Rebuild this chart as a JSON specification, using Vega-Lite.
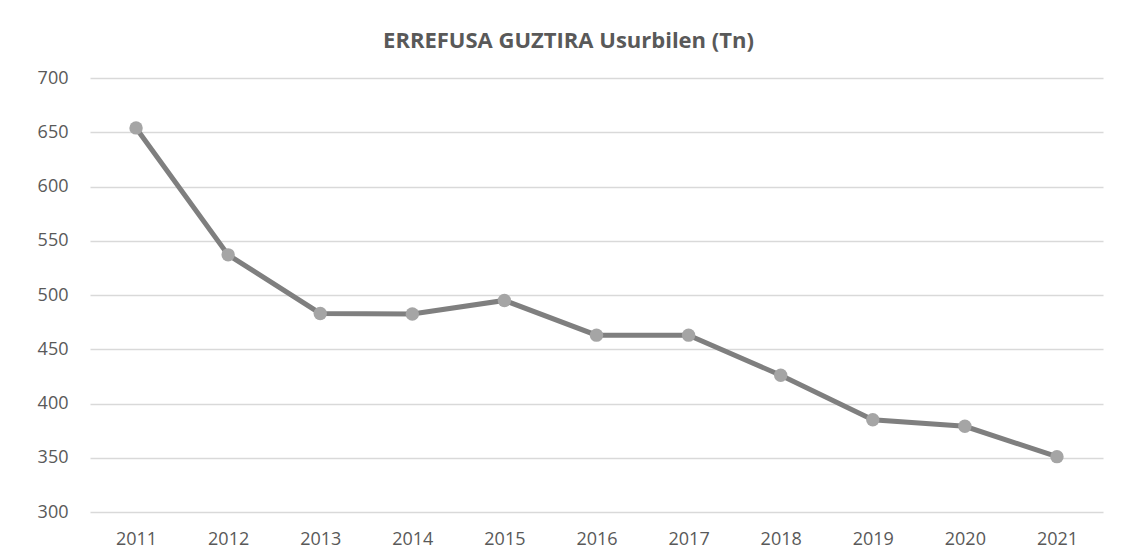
{
  "$schema": "https://vega.github.io/schema/vega-lite/v6.json",
  "autosize": {"type": "none"},
  "width": 1013,
  "height": 434,
  "padding": {"left": 90, "top": 78, "right": 20, "bottom": 47},
  "background": "white",
  "title": {
    "text": "ERREFUSA GUZTIRA Usurbilen (Tn)",
    "font": "Open Sans",
    "fontSize": 22,
    "fontWeight": "bold",
    "color": "#595959",
    "anchor": "middle",
    "dx": -28,
    "offset": 16
  },
  "data": {
    "values": [
      {"year": "2011", "value": 654},
      {"year": "2012", "value": 537},
      {"year": "2013", "value": 483},
      {"year": "2014", "value": 482.5},
      {"year": "2015", "value": 495},
      {"year": "2016", "value": 463},
      {"year": "2017", "value": 463},
      {"year": "2018", "value": 426},
      {"year": "2019", "value": 385},
      {"year": "2020", "value": 379},
      {"year": "2021", "value": 351}
    ]
  },
  "encoding": {
    "x": {
      "field": "year",
      "type": "ordinal",
      "title": null,
      "scale": {"type": "point", "padding": 0.5},
      "axis": {
        "labelAngle": 0,
        "labelFont": "Open Sans",
        "labelFontSize": 18,
        "labelColor": "#595959",
        "labelPadding": 18,
        "ticks": false,
        "domain": false,
        "grid": false
      }
    },
    "y": {
      "field": "value",
      "type": "quantitative",
      "title": null,
      "scale": {"domain": [300, 700], "nice": false, "zero": false},
      "axis": {
        "values": [300, 350, 400, 450, 500, 550, 600, 650, 700],
        "labelFont": "Open Sans",
        "labelFontSize": 18,
        "labelColor": "#595959",
        "labelPadding": 22,
        "ticks": false,
        "domain": false,
        "grid": true,
        "gridColor": "#d9d9d9",
        "gridWidth": 1.3
      }
    }
  },
  "layer": [
    {"mark": {"type": "line", "color": "#7f7f7f", "strokeWidth": 5}},
    {"mark": {"type": "point", "filled": true, "color": "#a5a5a5", "opacity": 1, "size": 180}}
  ],
  "config": {"view": {"stroke": null}}
}
